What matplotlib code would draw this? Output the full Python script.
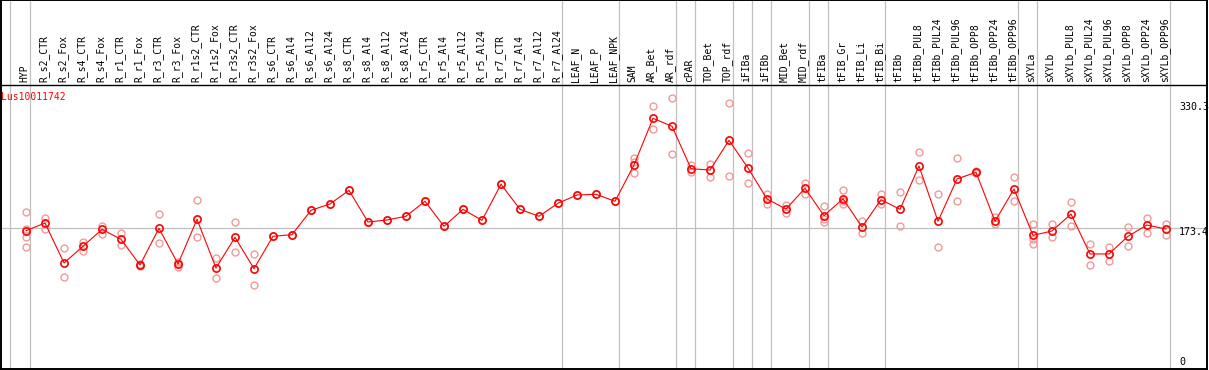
import numpy as np
import matplotlib
matplotlib.use("Agg")
import matplotlib.pyplot as plt

gene = "Lus10011742"

samples = ["HYP", "R_s2_CTR", "R_s2_Fox", "R_s4_CTR", "R_s4_Fox", "R_r1_CTR", "R_r1_Fox",
           "R_r3_CTR", "R_r3_Fox", "R_r1s2_CTR", "R_r1s2_Fox", "R_r3s2_CTR", "R_r3s2_Fox",
           "R_s6_CTR", "R_s6_Al4", "R_s6_Al12", "R_s6_Al24", "R_s8_CTR", "R_s8_Al4",
           "R_s8_Al12", "R_s8_Al24", "R_r5_CTR", "R_r5_Al4", "R_r5_Al12", "R_r5_Al24",
           "R_r7_CTR", "R_r7_Al4", "R_r7_Al12", "R_r7_Al24", "LEAF_N", "LEAF_P", "LEAF_NPK",
           "SAM", "AR_Bet", "AR_rdf", "cPAR", "TOP_Bet", "TOP_rdf", "iFIBa", "iFIBb",
           "MID_Bet", "MID_rdf", "tFIBa", "tFIB_Gr", "tFIB_Li", "tFIB_Bi", "tFIBb",
           "tFIBb_PUL8", "tFIBb_PUL24", "tFIBb_PUL96", "tFIBb_OPP8", "tFIBb_OPP24", "tFIBb_OPP96",
           "sXYLa", "sXYLb", "sXYLb_PUL8", "sXYLb_PUL24", "sXYLb_PUL96", "sXYLb_OPP8",
           "sXYLb_OPP24", "sXYLb_OPP96"]

# mean expression per sample
means = [170.4, 180.0, 129.9, 150.8, 172.1, 159.6, 127.4, 173.4, 128.6, 184.7, 123.6, 162.1, 122.7,
         163.4, 165.4, 196.0, 203.9, 221.1, 181.3, 183.8, 188.5, 207.3, 175.9, 197.2, 183.4,
         228.6, 197.2, 188.5, 204.8, 215.2, 216.1, 207.3,
         252.8, 311.4, 301.4, 248.2, 246.5, 283.8, 249.1, 210.2,
         197.6, 223.6, 189.2, 210.5, 175.0, 209.3, 197.2,
         251.6, 182.2, 235.3, 243.7, 182.2, 222.7,
         164.6, 170.0, 191.3, 141.2, 141.2, 163.4, 177.5, 172.5]

# replicate values per sample
reps = [[193.5, 172.5, 162.1, 150.3], [186.3, 172.5], [148.3, 111.9], [156.6, 145.3],
        [176.7, 166.6], [167.5, 152.1], [128.0, 126.7], [191.0, 154.6], [130.7, 124.8],
        [208.5, 162.1], [135.8, 110.7], [180.9, 143.3], [140.8, 101.9],
        [163.4], [165.4], [196.0], [203.9], [221.1], [181.3], [183.8], [188.5],
        [207.3], [175.9], [197.2], [183.4], [228.6], [197.2], [188.5], [204.8],
        [215.2], [216.1], [207.3],
        [262.0, 256.0, 242.4], [326.5, 297.6], [336.5, 266.2], [252.8, 243.7],
        [254.1, 237.4], [330.2, 239.0], [267.5, 229.9], [216.4, 203.9],
        [202.6, 193.0], [229.9, 216.4], [201.8, 185.1, 180.9], [221.1, 207.7, 203.9],
        [182.2, 167.1], [216.8, 203.9], [218.6, 175.9],
        [268.8, 233.6], [216.1, 149.6], [261.2, 207.7], [245.3, 242.2], [187.2, 178.4],
        [237.4, 207.7],
        [178.4, 160.0, 153.3], [178.4, 162.5], [206.4, 175.9], [153.7, 127.0],
        [149.6, 132.0], [174.7, 150.8], [186.3, 167.1], [178.8, 164.6]]

# last sample index of each group
group_ends = [0, 28, 31, 34, 35, 37, 38, 39, 41, 42, 45, 52, 53, 60]

y_labels = [330.3, 173.4, 0]

W, H = 1209, 370
fig = plt.figure(figsize=(W / 100, H / 100), dpi=100)
ax = fig.add_axes([1 / W, 1 / H, 1206 / W, 369 / H])

k = 1.2547  # value units per pixel
ax.set_xlim((1 - 26) / 19, (1207 - 26) / 19)
ax.set_ylim(-2.5 * k, 366.5 * k)
ax.set_xticks([])
ax.set_yticks([])
for s in ax.spines.values():
    s.set_color("black")
    s.set_linewidth(1.4)

mono = "DejaVu Sans Mono"
x = np.arange(len(samples))

# grid lines
ax.axvline(-0.842, color="#c0c0c0", lw=0.9, zorder=1)
for g in group_ends:
    ax.axvline(g + 0.21, color="#c0c0c0", lw=0.9, zorder=1)
ax.axhline(173.4, color="#c0c0c0", lw=0.9, zorder=1)
ax.axhline(281.5 * k, color="black", lw=1.0, zorder=2)

# replicates
for i, r in enumerate(reps):
    ax.plot([i] * len(r), r, "o", ms=5, mfc="none", mec="#f09a9a", mew=1.0, zorder=3)

ax.plot(x, means, "-", color="red", lw=0.8, zorder=4)
ax.plot(x, means, "o", ms=5.2, mfc="none", mec="red", mew=1.2, zorder=5)

# sample labels
for i, name in enumerate(samples):
    ax.text(i - 0.08, (369 - 82) / 369, name, rotation=90, ha="center", va="bottom",
            fontsize=7, family=mono, transform=ax.get_xaxis_transform())

ax.text(0.0, (369 - 97.5) / 369, gene, color="red", fontsize=7, family=mono,
        ha="left", va="center", transform=ax.transAxes)

xl = (1179 - 26) / 19
for v in y_labels:
    if v == 0:
        ax.annotate("0", (xl, v), xytext=(0, 3.2), textcoords="offset points",
                    ha="left", va="center", fontsize=7.2, family=mono)
    else:
        ax.annotate(f"{v:.1f}", (xl, v), xytext=(0, -2.7), textcoords="offset points",
                    ha="left", va="center", fontsize=7.2, family=mono)

fig.savefig("out.png", dpi=100)
